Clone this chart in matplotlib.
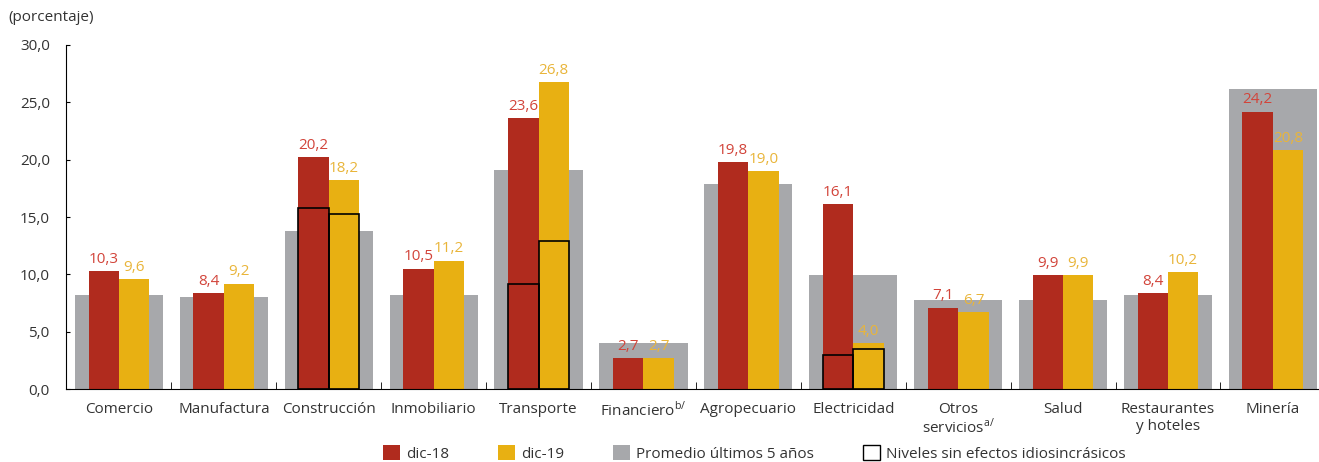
import numpy as np
import matplotlib
matplotlib.use("Agg")
import matplotlib.pyplot as plt
from matplotlib.patches import Patch

plt.rcParams['font.family'] = ['Open Sans', 'DejaVu Sans']

# Datos por sector
sectores = ['Comercio', 'Manufactura', 'Construcción', 'Inmobiliario', 'Transporte',
            r'Financiero$^{\mathregular{b/}}$', 'Agropecuario', 'Electricidad',
            'Otros\n' + r'servicios$^{\mathregular{a/}}$', 'Salud',
            'Restaurantes\ny hoteles', 'Minería']
dic18 = [10.3, 8.4, 20.2, 10.5, 23.6, 2.7, 19.8, 16.1, 7.1, 9.9, 8.4, 24.2]
dic19 = [9.6, 9.2, 18.2, 11.2, 26.8, 2.7, 19.0, 4.0, 6.7, 9.9, 10.2, 20.8]
promedio5 = [8.2, 8.0, 13.8, 8.2, 19.1, 4.0, 17.9, 9.9, 7.8, 7.8, 8.2, 26.2]
# niveles sin efectos idiosincrasicos (solo algunos sectores)
sin_idio18 = [None, None, 15.8, None, 9.2, None, None, 3.0, None, None, None, None]
sin_idio19 = [None, None, 15.3, None, 12.9, None, None, 3.5, None, None, None, None]

c_rojo = '#b02b1e'
c_amarillo = '#e8b012'
c_gris = '#a7a8ab'
c_txt_rojo = '#d2443a'
c_txt_amar = '#e9b53a'
c_texto = '#333333'
fs = 11

fig = plt.figure(figsize=(13.19, 4.62), dpi=100)
ax = fig.add_axes([0.0504, 0.158, 0.9544, 0.7446])

x = np.arange(len(sectores))
w = 0.29
ax.bar(x, promedio5, width=0.84, color=c_gris, zorder=1)
ax.bar(x - 0.145, dic18, width=w, color=c_rojo, zorder=2)
ax.bar(x + 0.145, dic19, width=w, color=c_amarillo, zorder=2)

# cajas sin efectos idiosincrasicos
for i in range(len(sectores)):
    if sin_idio18[i] is not None:
        ax.bar(x[i] - 0.145, sin_idio18[i], width=w, facecolor='none',
               edgecolor='black', linewidth=1.2, zorder=3)
    if sin_idio19[i] is not None:
        ax.bar(x[i] + 0.145, sin_idio19[i], width=w, facecolor='none',
               edgecolor='black', linewidth=1.2, zorder=3)

# etiquetas de valores
def fmt(v):
    return f'{v:.1f}'.replace('.', ',')

for i in range(len(sectores)):
    ax.annotate(fmt(dic18[i]), (x[i] - 0.145, dic18[i]), xytext=(0, 3),
                textcoords='offset points', ha='center', va='bottom',
                color=c_txt_rojo, fontsize=fs)
    ax.annotate(fmt(dic19[i]), (x[i] + 0.145, dic19[i]), xytext=(0, 3),
                textcoords='offset points', ha='center', va='bottom',
                color=c_txt_amar, fontsize=fs)

# ejes
ax.set_xlim(-0.5, len(sectores) - 0.5)
ax.set_ylim(0, 30)
ax.set_yticks(np.arange(0, 31, 5))
ax.set_yticklabels([fmt(v) for v in np.arange(0, 31, 5)], fontsize=fs, color=c_texto)
ax.tick_params(axis='y', direction='in', length=3, pad=12)
ax.set_xticks(x)
ax.set_xticklabels(sectores, fontsize=fs, color=c_texto, linespacing=1.25)
ax.get_xticklabels()[8].set_linespacing(1.05)
ax.tick_params(axis='x', which='major', length=0, pad=9)
ax.set_xticks(np.arange(0.5, len(sectores) - 0.5), minor=True)
ax.tick_params(axis='x', which='minor', direction='in', length=5)
for s in ['top', 'right']:
    ax.spines[s].set_visible(False)

fig.text(0.006, 0.962, '(porcentaje)', fontsize=fs, color=c_texto, va='center')

handles = [Patch(facecolor=c_rojo), Patch(facecolor=c_amarillo), Patch(facecolor=c_gris),
           Patch(facecolor='white', edgecolor='black', linewidth=1.0)]
etiquetas = ['dic-18', 'dic-19', 'Promedio últimos 5 años', 'Niveles sin efectos idiosincrásicos']
fig.legend(handles, etiquetas, loc='center', bbox_to_anchor=(0.572, 0.018), ncol=4,
           frameon=False, fontsize=fs, handlelength=1.1, handleheight=1.1,
           handletextpad=0.4, columnspacing=3.2, labelcolor=c_texto)

fig.savefig('out.png', dpi=100)
